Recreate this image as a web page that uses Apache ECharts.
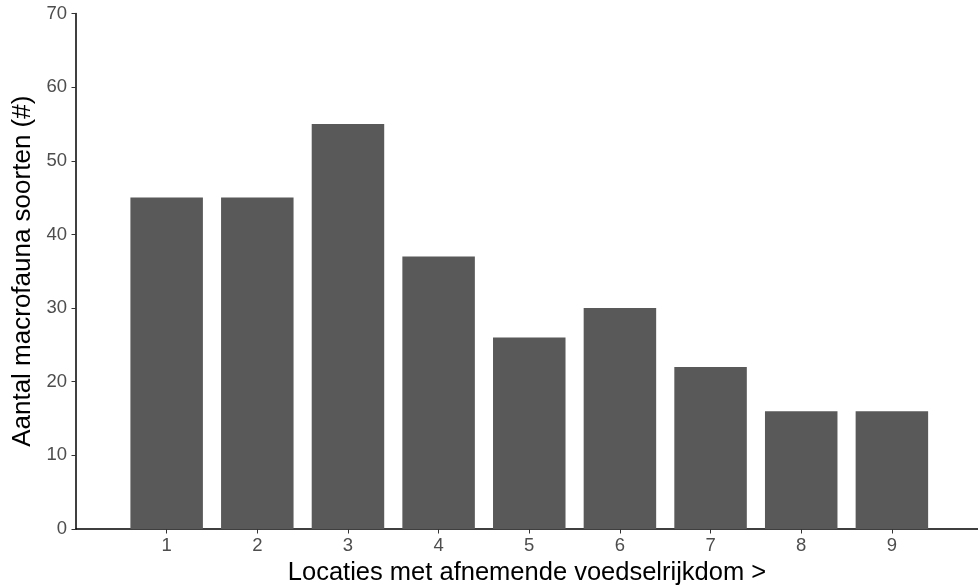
<!DOCTYPE html>
<html>
<head>
<meta charset="utf-8">
<script src="https://cdn.jsdelivr.net/npm/echarts@6/dist/echarts.min.js"></script>
<style>html,body{margin:0;padding:0;background:#fff;}#c{width:978px;height:587px;}</style>
</head>
<body>
<div id="c"></div>
<script>
const locations = [1, 2, 3, 4, 5, 6, 7, 8, 9];
const species = [45, 45, 55, 37, 26, 30, 22, 16, 16];
const yTicks = [0, 10, 20, 30, 40, 50, 60, 70];

const chart = echarts.init(document.getElementById('c'), null, {renderer: 'canvas'});
const font = '"Liberation Sans", Arial, sans-serif';
chart.setOption({
  animation: false,
  grid: {left: 76, right: 0, top: 13.5, bottom: 58, containLabel: false, outerBoundsMode: 'none'},
  xAxis: {
    type: 'value', min: 0, max: 9.95, interval: 1,
    name: 'Locaties met afnemende voedselrijkdom >',
    nameLocation: 'middle', nameGap: 29,
    nameTextStyle: {fontFamily: font, fontSize: 25.5, color: '#000'},
    axisLine: {show: true, lineStyle: {color: '#000', width: 1.5}},
    axisTick: {show: true, length: 4.5, customValues: locations, lineStyle: {color: '#333', width: 1}},
    axisLabel: {customValues: locations, fontFamily: font, fontSize: 18.5, color: '#4d4d4d', margin: 7},
    splitLine: {show: false}
  },
  yAxis: {
    type: 'value', min: yTicks[0], max: yTicks[yTicks.length - 1], interval: 10,
    name: 'Aantal macrofauna soorten (#)',
    nameLocation: 'middle', nameGap: 37, nameRotate: 90,
    nameTextStyle: {fontFamily: font, fontSize: 26, color: '#000'},
    axisLine: {show: true, lineStyle: {color: '#000', width: 1.5}},
    axisTick: {show: true, length: 4.5, lineStyle: {color: '#333', width: 1}},
    axisLabel: {fontFamily: font, fontSize: 18.5, color: '#4d4d4d', margin: 9},
    splitLine: {show: false}
  },
  series: [{
    type: 'bar',
    data: locations.map((x, i) => [x, species[i]]),
    barWidth: 72.5,
    itemStyle: {color: '#595959'}
  }]
});
</script>
</body>
</html>
